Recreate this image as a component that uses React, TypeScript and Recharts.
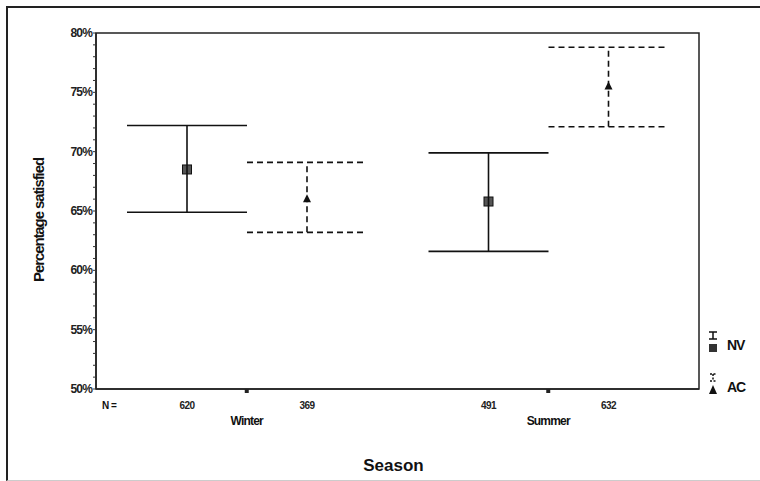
import React from 'react';
import {
  ComposedChart,
  Bar,
  XAxis,
  YAxis,
  ErrorBar,
  LabelList,
  Legend,
  ReferenceArea,
} from 'recharts';

const seasons = ['Winter', 'Summer'];
const nvMean = [68.5, 65.8];
const nvLow = [64.9, 61.6];
const nvHigh = [72.2, 69.9];
const nvN = [620, 491];
const acMean = [66.0, 75.5];
const acLow = [63.2, 72.1];
const acHigh = [69.1, 78.8];
const acN = [369, 632];
const yTicks = [50, 51, 52, 53, 54, 55, 56, 57, 58, 59, 60, 61, 62, 63, 64, 65, 66, 67, 68, 69, 70, 71, 72, 73, 74, 75, 76, 77, 78, 79, 80];

const data = seasons.map((s, i) => ({
  season: s,
  nv: nvMean[i],
  nvErr: [nvMean[i] - nvLow[i], nvHigh[i] - nvMean[i]],
  nvN: nvN[i],
  ac: acMean[i],
  acErr: [acMean[i] - acLow[i], acHigh[i] - acMean[i]],
  acN: acN[i],
}));

const FONT = '"Liberation Sans", Arial, sans-serif';

// marker only, the bar itself is not drawn
const squareShape = (p: any) => {
  const cx = p.x + p.width / 2;
  return <rect x={cx - 4.5} y={p.y - 4.5} width={9} height={9} fill="#555" stroke="#111" strokeWidth={1} />;
};
const triangleShape = (p: any) => {
  const cx = p.x + p.width / 2;
  const y = p.y;
  return <path d={`M${cx},${y - 5} L${cx + 4},${y + 3} L${cx - 4},${y + 3} Z`} fill="#111" />;
};

const nLabel = (p: any) => {
  const vb = p.viewBox || p;
  const x = vb.x + vb.width / 2;
  const bottom = vb.y + vb.height;
  return (
    <text x={x} y={bottom + 20} textAnchor="middle" fontFamily={FONT} fontSize={10} fontWeight="bold" fill="#222" letterSpacing={-0.5}>
      {p.value}
    </text>
  );
};

const yTick = (p: any) => {
  const v = p.payload.value;
  if (v % 5 !== 0) return <g />;
  return (
    <text x={p.x} y={p.y + 4} textAnchor="end" fontFamily={FONT} fontSize={12} fontWeight="bold" fill="#222" letterSpacing={-0.8}>
      {v}%
    </text>
  );
};

const xTick = (p: any) => (
  <text x={p.x} y={p.y + 30} textAnchor="middle" fontFamily={FONT} fontSize={12} fontWeight="bold" fill="#111" letterSpacing={-0.8}>
    {p.payload.value}
  </text>
);

const xLabel = (p: any) => {
  const vb = p.viewBox;
  return (
    <g fontFamily={FONT} fontWeight="bold" fill="#111">
      <text x={vb.x + 6} y={vb.y + 20} fontSize={10} letterSpacing={-0.5}>N =</text>
      <text x={vb.x + vb.width / 2 - 4} y={vb.y + 82} fontSize={17} textAnchor="middle">Season</text>
    </g>
  );
};

const yLabel = () => {
  const cx = 38;
  const cy = 220;
  return (
    <text x={cx} y={cy} transform={`rotate(-90 ${cx} ${cy})`} textAnchor="middle" dominantBaseline="central"
      fontFamily={FONT} fontSize={15} fontWeight="bold" fill="#111" letterSpacing={-1.1}>
      Percentage satisfied
    </text>
  );
};

const legendContent = () => (
  <div style={{ fontFamily: FONT, fontWeight: 'bold', fontSize: 14, color: '#111', letterSpacing: -1 }}>
    <div style={{ display: 'flex', alignItems: 'flex-end', height: 26 }}>
      <svg width={16} height={24}>
        <path d="M4,3 H12 M8,3 V10 M4,10 H12" stroke="#111" strokeWidth={1.5} fill="none" />
        <rect x={4} y={15} width={8} height={8} fill="#333" />
      </svg>
      <span style={{ marginLeft: 6, lineHeight: '16px' }}>NV</span>
    </div>
    <div style={{ display: 'flex', alignItems: 'flex-end', height: 26, marginTop: 16 }}>
      <svg width={16} height={24}>
        <path d="M5,3 H11 M8,3 V10 M5,10 H11" stroke="#111" strokeWidth={1.5} strokeDasharray="2 1.5" fill="none" />
        <path d="M8,14 L12,23 L4,23 Z" fill="#111" />
      </svg>
      <span style={{ marginLeft: 6, lineHeight: '16px' }}>AC</span>
    </div>
  </div>
);

export default function App() {
  return (
    <div style={{ position: 'absolute', left: 0, top: 0, width: 760, height: 481, background: '#fff' }}>
      <div style={{ position: 'absolute', left: 6, top: 6, width: 760, height: 472, borderLeft: '2px solid #222', borderTop: '2px solid #222', borderBottom: '1px solid #ccc' }} />
      <div style={{ position: 'absolute', left: 0, top: 0 }}>
        <ComposedChart width={760} height={481} data={data} margin={{ top: 33, right: 61, bottom: 0, left: 0 }} barGap={0}>
          <XAxis dataKey="season" height={92} axisLine={{ stroke: '#222', strokeWidth: 1.5 }}
            tickLine={{ stroke: '#222', strokeWidth: 4 }} tickSize={4} tick={xTick} interval={0} label={xLabel} />
          <YAxis domain={[50, 80]} ticks={yTicks} interval={0} width={96} allowDecimals={false}
            axisLine={{ stroke: '#222', strokeWidth: 1.5 }} tickLine={{ stroke: '#333', strokeWidth: 1 }} tickSize={3}
            tickMargin={1} tick={yTick} label={yLabel} />
          <ReferenceArea y1={50} y2={80} fill="none" stroke="#222" strokeWidth={1.5} ifOverflow="visible" />
          <Legend content={legendContent} layout="vertical" align="center" verticalAlign="middle"
            wrapperStyle={{ left: 705, top: 327, width: 55 }} />
          <Bar dataKey="nv" name="NV" barSize={120} shape={squareShape} isAnimationActive={false}>
            <ErrorBar dataKey="nvErr" width={60} stroke="#111" strokeWidth={1.6} />
            <LabelList dataKey="nvN" content={nLabel} />
          </Bar>
          <Bar dataKey="ac" name="AC" barSize={120} shape={triangleShape} isAnimationActive={false}>
            <ErrorBar dataKey="acErr" width={60} stroke="#111" strokeWidth={1.6} strokeDasharray="6 4" />
            <LabelList dataKey="acN" content={nLabel} />
          </Bar>
        </ComposedChart>
      </div>
    </div>
  );
}
